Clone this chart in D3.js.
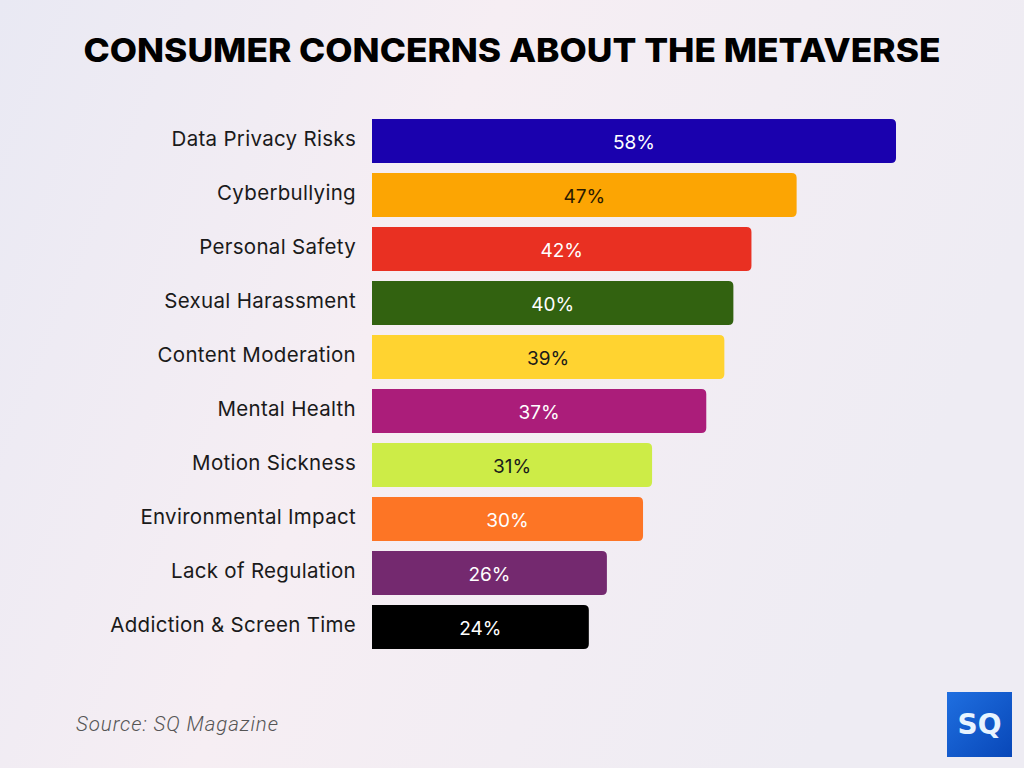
<!DOCTYPE html>
<html>
<head>
<meta charset="utf-8">
<script src="https://cdn.jsdelivr.net/npm/d3@7"></script>
<style>
html,body{margin:0;padding:0;}
svg{display:block;}
</style>
</head>
<body>
<script>
const categories = ["Data Privacy Risks","Cyberbullying","Personal Safety","Sexual Harassment","Content Moderation","Mental Health","Motion Sickness","Environmental Impact","Lack of Regulation","Addiction & Screen Time"];
const values = [58,47,42,40,39,37,31,30,26,24];
const colors = ["#1a01ae","#fca503","#e93022","#326210","#ffd330","#ab1d7a","#cdec47","#fd7525","#74296f","#000000"];
const labelColors = ["#ffffff","#2a1a00","#ffffff","#ffffff","#1a1a1a","#ffffff","#1a1a1a","#ffffff","#ffffff","#ffffff"];
const title = "CONSUMER CONCERNS ABOUT THE METAVERSE";
const source = "Source: SQ Magazine";

const W = 1024, H = 768;
const svg = d3.select("body").append("svg").attr("width", W).attr("height", H);
const defs = svg.append("defs");
const g1 = defs.append("linearGradient").attr("id","bg").attr("x1","0").attr("y1","0").attr("x2","1").attr("y2","0.3");
g1.append("stop").attr("offset","0").attr("stop-color","#e9e9f3");
g1.append("stop").attr("offset","0.45").attr("stop-color","#f6eef3");
g1.append("stop").attr("offset","1").attr("stop-color","#eeecf3");
svg.append("rect").attr("width",W).attr("height",H).attr("fill","url(#bg)");

svg.append("text").attr("x",512).attr("y",62).attr("text-anchor","middle")
  .attr("font-family","Inter, 'Open Sans', sans-serif").attr("font-weight",800)
  .attr("font-size",33).attr("fill","#000").attr("textLength",857).attr("lengthAdjust","spacingAndGlyphs")
  .text(title);

const x = d3.scaleLinear().domain([0,58]).range([372,896]);
const y = d3.scaleBand().domain(categories).range([119,649]).paddingInner(10/54).paddingOuter(0).align(0);

const r = 5;
function barPath(x0, x1, y0, h){
  const rr = Math.min(r, (x1-x0)/2);
  return `M${x0},${y0} H${x1-rr} Q${x1},${y0} ${x1},${y0+rr} V${y0+h-rr} Q${x1},${y0+h} ${x1-rr},${y0+h} H${x0} Z`;
}

const rows = svg.append("g").selectAll("g").data(categories).join("g");
rows.append("path")
  .attr("d",(d,i)=>barPath(x(0), x(values[i]), y(d), y.bandwidth()))
  .attr("fill",(d,i)=>colors[i]);
rows.append("text")
  .attr("x",(d,i)=>(x(0)+x(values[i]))/2)
  .attr("y",d=>y(d)+y.bandwidth()/2 + 1)
  .attr("dy","0.35em").attr("text-anchor","middle")
  .attr("font-family","Inter, 'Open Sans', sans-serif").attr("font-size",19)
  .attr("fill",(d,i)=>labelColors[i])
  .text((d,i)=>values[i]+"%");
rows.append("text")
  .attr("x",356)
  .attr("y",d=>y(d)+y.bandwidth()/2 - 2)
  .attr("dy","0.35em").attr("text-anchor","end")
  .attr("font-family","Inter, 'Open Sans', sans-serif").attr("font-size",20.5)
  .attr("letter-spacing",0.3)
  .attr("fill","#1a1a1a")
  .text(d=>d);

svg.append("text").attr("x",76).attr("y",731)
  .attr("font-family","Roboto, sans-serif").attr("font-style","italic").attr("font-weight",300)
  .attr("font-size",20.5).attr("fill","#555").attr("textLength",202).attr("lengthAdjust","spacing")
  .text(source);

// logo
const lg = defs.append("linearGradient").attr("id","lg").attr("x1","0").attr("y1","0").attr("x2","1").attr("y2","1");
lg.append("stop").attr("offset","0").attr("stop-color","#1f6fe0");
lg.append("stop").attr("offset","1").attr("stop-color","#0847b8");
svg.append("rect").attr("x",947).attr("y",692).attr("width",65).attr("height",65).attr("fill","url(#lg)");
svg.append("text").attr("x",979.5).attr("y",734).attr("text-anchor","middle")
  .attr("font-family","'DejaVu Sans', sans-serif").attr("font-weight",700)
  .attr("font-size",28).attr("fill","#e8f4ff").text("SQ");
</script>
</body>
</html>
